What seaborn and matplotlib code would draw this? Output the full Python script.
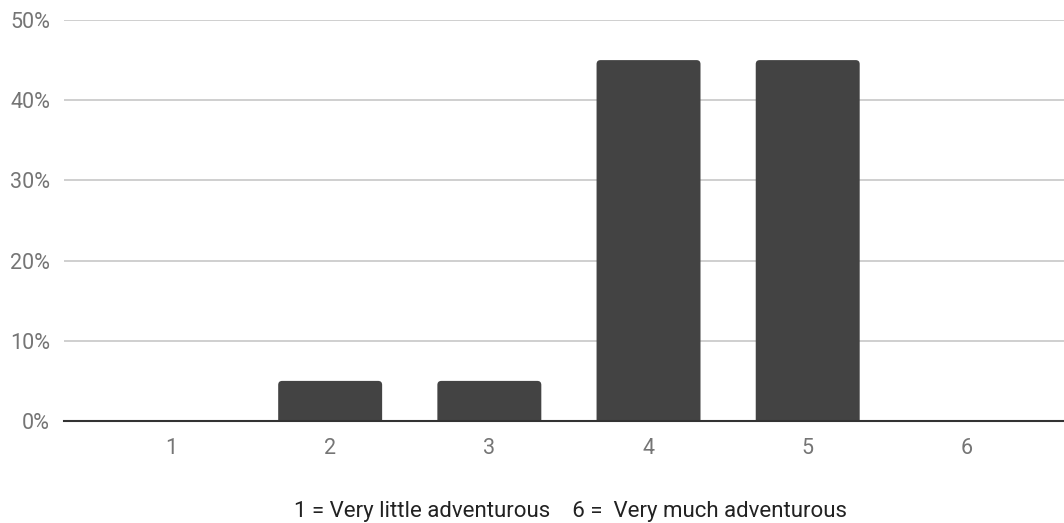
import matplotlib
matplotlib.use("Agg")
import matplotlib.pyplot as plt
from matplotlib.patches import FancyBboxPatch
from matplotlib.ticker import FuncFormatter, MultipleLocator
import pandas as pd
import seaborn as sns

categories = ["1", "2", "3", "4", "5", "6"]
shares = [0, 5, 5, 45, 45, 0]  # percent of respondents
x_caption = "1 = Very little adventurous    6 =  Very much adventurous"

sns.set_theme(style="white")
plt.rcParams["font.family"] = ["Roboto", "DejaVu Sans"]

df = pd.DataFrame({"rating": categories, "share": shares})

fig = plt.figure(figsize=(10.64, 5.23), dpi=100)
ax = fig.add_axes([64 / 1064, 102 / 523, 1 - 64 / 1064, 401 / 523])

bar_color = "#434343"
sns.barplot(data=df, x="rating", y="share", color=bar_color, width=0.653,
            saturation=1, ax=ax, zorder=3)

ax.set_xlim(-0.672, 5.61)
ax.set_ylim(0, 50)

# Swap plain rectangles for bars with softly rounded tops
px_x = 1 / 159.2   # data units per pixel horizontally
px_y = 50 / 401    # data units per pixel vertically
radius = 4
for p in list(ax.patches):
    x0, y0 = p.get_x(), p.get_y()
    w, h = p.get_width(), p.get_height()
    p.remove()
    if h <= 0:
        continue
    ext = 2.0  # extend below the baseline so lower corners are clipped square
    rb = FancyBboxPatch((x0, y0 - ext), w, h + ext,
                        boxstyle=f"round,pad=0,rounding_size={radius * px_x}",
                        mutation_aspect=px_y / px_x,
                        facecolor=bar_color, edgecolor="none", zorder=3,
                        clip_on=True)
    ax.add_patch(rb)

ax.yaxis.set_major_locator(MultipleLocator(10))
ax.yaxis.set_major_formatter(FuncFormatter(lambda v, _: f"{v:.0f}%"))
ax.grid(axis="y", color="#cccccc", linewidth=1.3, zorder=0)
ax.grid(axis="x", visible=False)

for side in ["top", "right", "left"]:
    ax.spines[side].set_visible(False)
ax.spines["bottom"].set_color("#333333")
ax.spines["bottom"].set_linewidth(1.5)
ax.spines["bottom"].set_zorder(4)

ax.tick_params(axis="both", length=0, labelsize=15.5, labelcolor="#757575")
ax.tick_params(axis="x", pad=12)
ax.tick_params(axis="y", pad=10)

ax.set_ylabel("")
ax.set_xlabel("")
fig.text(0.536, 1 - 511 / 523, x_caption, fontsize=16, color="#222222",
         ha="center", va="center")

fig.savefig("out.png", dpi=100)
